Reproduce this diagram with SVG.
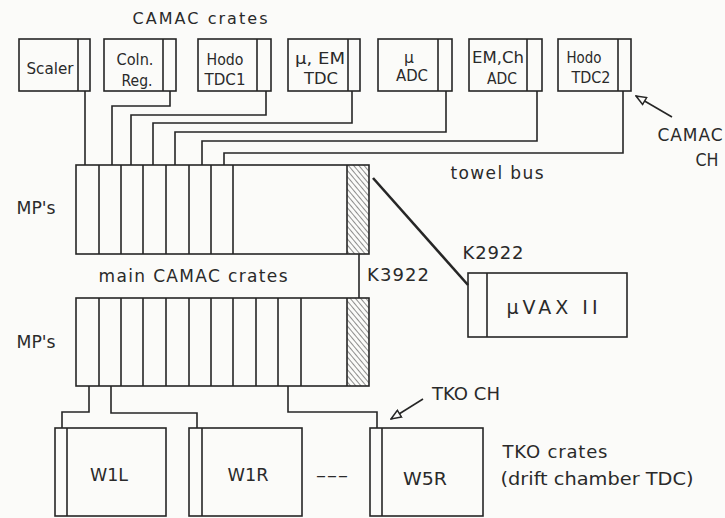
<svg xmlns="http://www.w3.org/2000/svg" width="725" height="518" viewBox="0 0 725 518">
<defs>
<style>
.b{fill:none;stroke:#262626;stroke-width:1.6}
.w{fill:none;stroke:#262626;stroke-width:1.6;stroke-linejoin:miter}
text{font-family:"DejaVu Sans","Liberation Sans",sans-serif;fill:#2a2a2a;text-anchor:middle}
.s{font-size:15.5px}
.m{font-size:17px}
</style>
<pattern id="hatch" patternUnits="userSpaceOnUse" width="4" height="4" patternTransform="rotate(-40)">
<rect width="4" height="4" fill="#fbfbf9"/>
<line x1="0" y1="0" x2="0" y2="4" stroke="#333" stroke-width="1.1"/>
</pattern>
<marker id="oa" viewBox="0 0 12 10" refX="11" refY="5" markerWidth="12" markerHeight="10" markerUnits="userSpaceOnUse" orient="auto">
<path d="M1,1 L11,5 L1,9 Z" fill="#fbfbf9" stroke="#262626" stroke-width="1.5"/>
</marker>
</defs>
<rect width="725" height="518" fill="#fbfbf9"/>

<text x="200" y="24" style="font-size:16px" textLength="135" lengthAdjust="spacing">CAMAC crates</text>

<g id="scaler"><rect class="b" x="19" y="39" width="71" height="52"/><line class="b" x1="78" y1="39" x2="78" y2="91"/><text class="s" x="50" y="74" textLength="47" lengthAdjust="spacingAndGlyphs">Scaler</text></g>
<g id="coln"><rect class="b" x="104" y="39" width="72" height="52"/><line class="b" x1="163" y1="39" x2="163" y2="91"/><text class="s" x="135" y="65" textLength="37" lengthAdjust="spacingAndGlyphs">Coln.</text><text class="s" x="137" y="86" textLength="31" lengthAdjust="spacingAndGlyphs">Reg.</text></g>
<g id="hodotdc1"><rect class="b" x="198" y="39" width="73" height="52"/><line class="b" x1="257" y1="39" x2="257" y2="91"/><text class="s" x="225" y="65" textLength="37" lengthAdjust="spacingAndGlyphs">Hodo</text><text class="s" x="225" y="85" textLength="41" lengthAdjust="spacingAndGlyphs">TDC1</text></g>
<g id="muemtdc"><rect class="b" x="288" y="39" width="72" height="52"/><line class="b" x1="348" y1="39" x2="348" y2="91"/><text class="s" x="320" y="64" textLength="50" lengthAdjust="spacingAndGlyphs">μ, EM</text><text class="s" x="321" y="84" textLength="34" lengthAdjust="spacingAndGlyphs">TDC</text></g>
<g id="muadc"><rect class="b" x="378" y="39" width="74" height="52"/><line class="b" x1="438" y1="39" x2="438" y2="91"/><text class="s" x="409" y="63">μ</text><text class="s" x="412" y="81" textLength="32" lengthAdjust="spacingAndGlyphs">ADC</text></g>
<g id="emchadc"><rect class="b" x="469" y="39" width="73" height="52"/><line class="b" x1="527" y1="39" x2="527" y2="91"/><text class="s" x="498" y="63" textLength="52" lengthAdjust="spacingAndGlyphs">EM,Ch</text><text class="s" x="502" y="84" textLength="30" lengthAdjust="spacingAndGlyphs">ADC</text></g>
<g id="hodotdc2"><rect class="b" x="558" y="39" width="73" height="52"/><line class="b" x1="618" y1="39" x2="618" y2="91"/><text class="s" x="584" y="63" textLength="35" lengthAdjust="spacingAndGlyphs">Hodo</text><text class="s" x="591" y="83" textLength="39" lengthAdjust="spacingAndGlyphs">TDC2</text></g>

<g id="camacch-label"><text class="m" x="690" y="141" textLength="65" lengthAdjust="spacing">CAMAC</text><text class="m" x="707" y="166" textLength="23" lengthAdjust="spacingAndGlyphs">CH</text></g>
<text class="m" x="497" y="179" textLength="93" lengthAdjust="spacing">towel bus</text>

<g id="main1"><text class="m" x="36" y="214" textLength="39" lengthAdjust="spacingAndGlyphs">MP's</text>
<rect x="347" y="165" width="22" height="89" fill="url(#hatch)"/>
<rect class="b" x="76" y="165" width="293" height="89"/>
<path class="b" d="M99,165V254M121,165V254M143,165V254M166,165V254M189,165V254M211,165V254M233,165V254M347,165V254"/></g>

<text class="m" x="193" y="282" textLength="189" lengthAdjust="spacing">main CAMAC crates</text>
<text style="font-size:18px" x="398" y="281" textLength="62" lengthAdjust="spacing">K3922</text>
<text style="font-size:18px" x="493" y="259" textLength="61" lengthAdjust="spacing">K2922</text>

<g id="main2"><text class="m" x="36" y="348" textLength="39" lengthAdjust="spacingAndGlyphs">MP's</text>
<rect x="347" y="298" width="22" height="88" fill="url(#hatch)"/>
<rect class="b" x="76" y="298" width="293" height="88"/>
<path class="b" d="M99,298V386M121,298V386M143,298V386M166,298V386M189,298V386M211,298V386M233,298V386M256,298V386M278,298V386M301,298V386M347,298V386"/></g>

<g id="muvax"><rect class="b" x="468" y="273" width="159" height="64"/><line class="b" x1="487" y1="273" x2="487" y2="337"/><text x="552" y="314" style="font-size:19px" textLength="91" lengthAdjust="spacing">μVAX II</text></g>

<g id="w1l"><rect class="b" x="55" y="428" width="111" height="88"/><line class="b" x1="67" y1="428" x2="67" y2="516"/><text style="font-size:18px" x="109" y="481" textLength="38" lengthAdjust="spacingAndGlyphs">W1L</text></g>
<g id="w1r"><rect class="b" x="189" y="428" width="113" height="88"/><line class="b" x1="202" y1="428" x2="202" y2="516"/><text style="font-size:18px" x="248" y="481" textLength="41" lengthAdjust="spacingAndGlyphs">W1R</text></g>
<text style="font-size:18px" x="332" y="481" textLength="33" lengthAdjust="spacingAndGlyphs">---</text>
<g id="w5r"><rect class="b" x="370" y="428" width="113" height="88"/><line class="b" x1="382" y1="428" x2="382" y2="516"/><text style="font-size:18px" x="425" y="485" textLength="44" lengthAdjust="spacingAndGlyphs">W5R</text></g>

<text style="font-size:18px" x="466" y="400" textLength="68" lengthAdjust="spacingAndGlyphs">TKO CH</text>
<text style="font-size:18px" x="555" y="458" textLength="105" lengthAdjust="spacing">TKO crates</text>
<text style="font-size:18px" x="597" y="485" textLength="193" lengthAdjust="spacingAndGlyphs">(drift chamber TDC)</text>

<g id="connectors">
<path class="w" d="M85,91V165"/>
<path class="w" d="M170,91V106H112V165"/>
<path class="w" d="M266,91V115H131V165"/>
<path class="w" d="M352,91V123H153V165"/>
<path class="w" d="M446,91V132H175V165"/>
<path class="w" d="M537,91V141H202V165"/>
<path class="w" d="M623,91V153H224V165"/>
<path class="w" d="M359,254V298"/>
<path d="M373,178L468,285" fill="none" stroke="#262626" stroke-width="2.6"/>
<path class="w" d="M89,386V412H62V428"/>
<path class="w" d="M111,386V413H197V428"/>
<path class="w" d="M288,386V412H377V428"/>
<path class="w" d="M672,117L636,96" marker-end="url(#oa)"/>
<path class="w" d="M423,399L391,419" marker-end="url(#oa)"/>
</g>
</svg>
